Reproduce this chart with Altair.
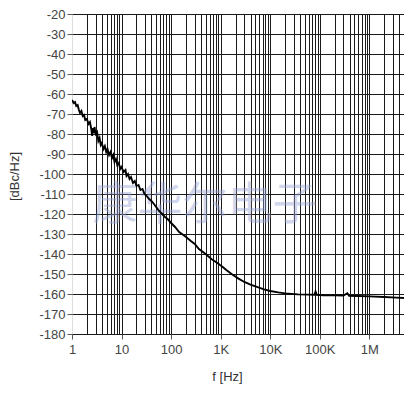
import altair as alt
import pandas as pd

# Phase-noise curve (offset frequency in Hz, level in dBc/Hz)
freq = [1.0, 1.08, 1.15, 1.22, 1.3, 1.38, 1.45, 1.55, 1.65, 1.75, 1.85, 2.0, 2.15, 2.3, 2.45,
        2.55, 2.65, 2.75, 2.85, 3.0, 3.2, 3.4, 3.6, 3.8, 4.0, 4.3, 4.6, 4.9, 5.2, 5.6, 6.0,
        6.4, 6.8, 7.2, 7.7, 8.2, 8.8, 9.4, 10, 11, 12, 12.6, 13.5, 14.5, 15.5, 17, 18.5, 20,
        22, 24, 26.5, 29, 32, 36, 40, 45, 50, 57, 66, 75, 85, 100, 120, 145, 166, 200, 250,
        300, 364, 440, 525, 650, 800, 912, 1100, 1300, 1660, 2290, 3000, 4000, 5750, 7500,
        10000, 14500, 20000, 36000, 60000, 78000, 82000, 87000, 120000, 200000, 300000,
        360000, 390000, 600000, 1000000, 2000000, 3500000, 5000000]
phase_noise = [-63.0, -64.5, -64.0, -66.0, -65.5, -68.0, -69.5, -68.5, -71.0, -70.5, -73.0,
               -72.5, -75.0, -74.0, -77.5, -81.0, -77.0, -79.5, -76.5, -80.0, -79.0, -83.5,
               -82.0, -85.5, -84.5, -87.5, -86.0, -89.0, -87.5, -90.5, -89.0, -92.0, -90.5,
               -94.0, -92.5, -95.5, -94.5, -97.5, -96.5, -99.0, -98.0, -101.0, -100.0, -102.5,
               -101.5, -104.5, -103.5, -106.0, -105.5, -108.0, -107.5, -110.0, -111.0, -112.5,
               -113.5, -115.0, -116.5, -118.5, -120.0, -121.5, -122.5, -124.5, -126.5, -129.0,
               -130.0, -131.5, -133.5, -135.0, -137.5, -139.0, -140.5, -142.5, -144.0, -145.0,
               -146.5, -148.0, -150.0, -152.3, -154.0, -155.3, -156.7, -157.7, -158.5, -159.2,
               -159.7, -160.2, -160.3, -160.4, -158.8, -160.4, -160.6, -160.7, -160.8, -159.6,
               -160.9, -161.0, -161.2, -161.5, -161.8, -162.0]

y_ticks = list(range(-180, -10, 10))
x_decades = [1, 10, 100, 1000, 10000, 100000, 1000000]
x_labels = ["1", "10", "100", "1K", "10K", "100K", "1M"]
watermark_text = ["康华尔电子"]
watermark_f = [480]
watermark_db = [-116]

x_max = 5e6
grid_vals = [m * 10 ** k for k in range(7) for m in range(1, 10) if m * 10 ** k <= x_max]

label_expr = " : ".join(f"datum.value == {v} ? '{l}'" for v, l in zip(x_decades, x_labels)) + " : ''"
decade_list = "[" + ",".join(str(v) for v in x_decades) + "]"

df = pd.DataFrame({"f": freq, "db": phase_noise})
wm = pd.DataFrame({"f": watermark_f, "db": watermark_db, "t": watermark_text})

FONT = "Liberation Sans"

x_enc = alt.X(
    "f:Q",
    scale=alt.Scale(type="log", domain=[1, x_max], nice=False),
    axis=alt.Axis(
        values=grid_vals,
        labelExpr=label_expr,
        title="f [Hz]",
        grid=True,
        gridColor="#1a1a1a",
        gridWidth=1,
        gridOpacity={"condition": {"test": "datum.value == 1", "value": 0}, "value": 1},
        domain=False,
        ticks=True,
        tickSize=5,
        tickColor="#555",
        tickOpacity={"condition": {"test": f"indexof({decade_list}, datum.value) < 0", "value": 0}, "value": 1},
        labelFont=FONT,
        labelFontSize=13,
        labelColor="#444",
        labelPadding=4,
        labelFlush=False,
        labelOverlap=False,
        titleFont=FONT,
        titleFontSize=13,
        titleFontWeight="normal",
        titleColor="#333",
        titlePadding=14,
        titleX=155,
        titleAnchor="start",
        titleAlign="center",
    ),
)

y_enc = alt.Y(
    "db:Q",
    scale=alt.Scale(domain=[-180, -20], nice=False, zero=False),
    axis=alt.Axis(
        values=y_ticks,
        labelExpr="toString(datum.value)",
        title="[dBc/Hz]",
        grid=True,
        gridColor="#1a1a1a",
        gridWidth=1,
        domain=False,
        ticks=True,
        tickSize=5,
        tickColor="#555",
        labelFont=FONT,
        labelFontSize=13,
        labelColor="#444",
        labelPadding=2,
        labelFlush=False,
        labelOverlap=False,
        titleFont=FONT,
        titleFontSize=13,
        titleFontWeight="normal",
        titleColor="#333",
        titleX=-58,
        titleY=162,
        titleAngle=-90,
        titleAlign="center",
        titleBaseline="middle",
    ),
)

line = alt.Chart(df).mark_line(color="black", strokeWidth=1.9, clip=True).encode(x=x_enc, y=y_enc)

mark = alt.Chart(wm).mark_text(
    font="Noto Sans CJK SC", fontSize=45, color="#9aa5d6", opacity=0.45
).encode(x=x_enc, y=y_enc, text="t:N")

chart = (
    alt.layer(mark, line)
    .resolve_scale(x="shared", y="shared")
    .properties(
        width=332,
        height=320,
        autosize=alt.AutoSizeParams(type="none"),
        padding={"left": 64, "top": 6, "right": 0, "bottom": 52},
    )
    .configure_view(fill="#efefef", stroke="#c8c8c8", strokeWidth=1)
    .configure(background="white")
)

chart.save("out.html", embed_options={"renderer": "svg", "actions": False})
